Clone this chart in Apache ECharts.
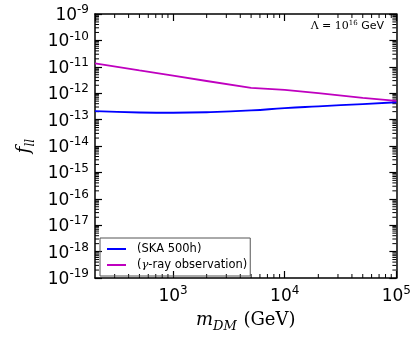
<!DOCTYPE html>
<html>
<head>
<meta charset="utf-8">
<script src="https://cdn.jsdelivr.net/npm/echarts@6/dist/echarts.min.js"></script>
<style>
  html, body { margin: 0; padding: 0; background: #fff; }
  #chart { width: 414px; height: 338px; }
</style>
</head>
<body>
<div id="chart"></div>
<script>
// dark matter mass (GeV)
const massGeV = [200, 500, 1000, 2000, 5000, 10000, 20000, 50000, 100000]
const skaValues = [2.09e-13, 1.86e-13, 1.82e-13, 1.9e-13, 2.22e-13, 2.72e-13, 3.18e-13, 3.89e-13, 4.55e-13]
const gammaValues = [1.35e-11, 7.3e-12, 4.6e-12, 2.9e-12, 1.58e-12, 1.33e-12, 1.01e-12, 6.7e-13, 5.1e-13]
const seriesNames = ['SKA 500h', 'γ-ray observation']

const X_MIN = 200, X_MAX = 1e5
const Y_MIN = 1e-19, Y_MAX = 1e-9

// minor tick positions (2..9 x 10^n)
const minorY = []
for (let e = -19; e < -9; e++) for (let k = 2; k <= 9; k++) minorY.push(k * Math.pow(10, e))
const minorX = []
for (let e = 2; e < 5; e++) for (let k = 2; k <= 9; k++) {
  const v = k * Math.pow(10, e)
  if (v > X_MIN && v < X_MAX) minorX.push(v)
}

const tickFont = 'DejaVu Sans'
const supRich = {
  b: { fontSize: 17, fontFamily: tickFont, color: '#000', verticalAlign: 'bottom' },
  s: { fontSize: 12, fontFamily: tickFont, color: '#000', verticalAlign: 'bottom', padding: [0, 0, 8, 0] }
}
function powLabel(v) {
  const e = Math.log10(v)
  if (Math.abs(e - Math.round(e)) > 1e-6) return ''
  return '{b|10}{s|' + Math.round(e) + '}'
}

const axisLine = { lineStyle: { color: '#000', width: 1.5 } }
const majorTick = { show: true, inside: true, length: 7, lineStyle: { color: '#000', width: 1.2 } }

const chart = echarts.init(document.getElementById('chart'))

function minorTicks(list, isY) {
  return {
    type: 'custom',
    silent: true,
    clip: false,
    legendHoverLink: false,
    data: list.map(v => isY ? [X_MIN, v] : [v, Y_MIN]),
    renderItem(params, api) {
      const len = 4
      const style = { stroke: '#000', lineWidth: 1 }
      if (isY) {
        const a = api.coord([X_MIN, api.value(1)])
        const b = api.coord([X_MAX, api.value(1)])
        return { type: 'group', children: [
          { type: 'line', shape: { x1: a[0], y1: a[1], x2: a[0] + len, y2: a[1] }, style },
          { type: 'line', shape: { x1: b[0] - len, y1: b[1], x2: b[0], y2: b[1] }, style }
        ] }
      }
      const a = api.coord([api.value(0), Y_MIN])
      const b = api.coord([api.value(0), Y_MAX])
      return { type: 'group', children: [
        { type: 'line', shape: { x1: a[0], y1: a[1], x2: a[0], y2: a[1] - len }, style },
        { type: 'line', shape: { x1: b[0], y1: b[1], x2: b[0], y2: b[1] + len }, style }
      ] }
    }
  }
}

chart.setOption({
  animation: false,
  grid: { left: 95, right: 16, top: 14, bottom: 55 },
  legend: {
    data: seriesNames,
    left: 100,
    top: 238,
    orient: 'vertical',
    icon: 'rect',
    itemWidth: 19,
    itemHeight: 2,
    itemGap: 4,
    padding: [5, 3, 5, 7],
    borderColor: '#555',
    borderWidth: 1,
    formatter: name => name === seriesNames[1] ? '({g|γ}-ray observation)' : '(' + name + ')',
    textStyle: {
      fontFamily: tickFont,
      fontSize: 11.5,
      color: '#000',
      padding: [0, 0, 0, 6],
      rich: { g: { fontFamily: 'DejaVu Serif', fontStyle: 'italic', fontSize: 11.5, color: '#000' } }
    }
  },
  xAxis: [
    {
      type: 'log', logBase: 10, min: X_MIN, max: X_MAX,
      axisLine, axisTick: majorTick, splitLine: { show: false },
      axisLabel: { formatter: powLabel, rich: supRich, margin: 7, showMinLabel: false },
      name: '{i|m}{sub|DM}  {r|(GeV)}',
      nameLocation: 'middle',
      nameGap: 33,
      nameTextStyle: {
        rich: {
          i: { fontFamily: 'DejaVu Serif', fontStyle: 'italic', fontSize: 18, color: '#000', verticalAlign: 'bottom' },
          sub: { fontFamily: 'DejaVu Serif', fontStyle: 'italic', fontSize: 13, color: '#000', verticalAlign: 'bottom', padding: [0, 0, -4, 0] },
          r: { fontFamily: 'DejaVu Serif', fontSize: 18, color: '#000', verticalAlign: 'bottom' }
        }
      }
    },
    {
      type: 'log', logBase: 10, min: X_MIN, max: X_MAX, position: 'top',
      axisLine, axisTick: majorTick, axisLabel: { show: false }, splitLine: { show: false }
    }
  ],
  yAxis: [
    {
      type: 'log', logBase: 10, min: Y_MIN, max: Y_MAX, interval: 1,
      axisLine, axisTick: majorTick, splitLine: { show: false },
      axisLabel: { formatter: powLabel, rich: supRich, margin: 6 },
      name: '{i|f}{sub|ll}',
      nameLocation: 'middle',
      nameRotate: 90,
      nameGap: 62,
      nameTextStyle: {
        rich: {
          i: { fontFamily: 'DejaVu Serif', fontStyle: 'italic', fontSize: 18, color: '#000', verticalAlign: 'bottom' },
          sub: { fontFamily: 'DejaVu Serif', fontStyle: 'italic', fontSize: 12, color: '#000', verticalAlign: 'bottom', padding: [0, 0, -4, 0] }
        }
      }
    },
    {
      type: 'log', logBase: 10, min: Y_MIN, max: Y_MAX, interval: 1, position: 'right',
      axisLine, axisTick: majorTick, axisLabel: { show: false }, splitLine: { show: false }
    }
  ],
  graphic: [{
    type: 'text',
    right: 30,
    top: 20,
    style: {
      text: '{a|Λ = 10}{s|16}{g| GeV}',
      rich: {
        a: { fontFamily: 'DejaVu Serif', fontSize: 11, fill: '#000', verticalAlign: 'bottom' },
        s: { fontFamily: 'DejaVu Serif', fontSize: 7, fill: '#000', verticalAlign: 'bottom', padding: [0, 0, 5, 0] },
        g: { fontFamily: tickFont, fontSize: 11, fill: '#000', verticalAlign: 'bottom' }
      }
    }
  }],
  series: [
    {
      name: seriesNames[0], type: 'line', smooth: true, symbol: 'none',
      color: '#0000ff', lineStyle: { width: 1.8, color: '#0000ff' },
      data: massGeV.map((m, i) => [m, skaValues[i]])
    },
    {
      name: seriesNames[1], type: 'line', symbol: 'none',
      color: '#bf00bf', lineStyle: { width: 1.8, color: '#bf00bf' },
      data: massGeV.map((m, i) => [m, gammaValues[i]])
    },
    minorTicks(minorY, true),
    minorTicks(minorX, false)
  ]
})
</script>
</body>
</html>
